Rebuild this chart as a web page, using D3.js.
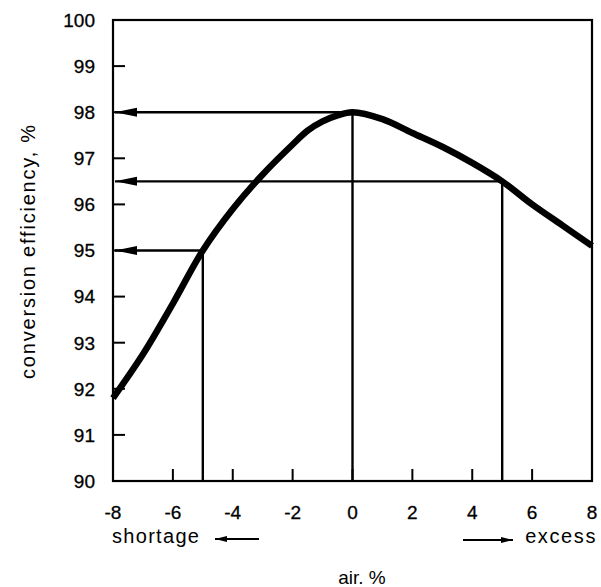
<!DOCTYPE html>
<html>
<head>
<meta charset="utf-8">
<script src="https://cdn.jsdelivr.net/npm/d3@7"></script>
<style>
  body { margin: 0; background: #fff; }
  text { font-family: 'Liberation Sans', Arial, sans-serif; fill: #000; }
</style>
</head>
<body>
<svg width="601" height="587"></svg>
<script>
// air %
const airX = [-8, -7, -6, -5, -4, -3, -2, -1.5, -1, -0.5, 0, 1, 2, 3, 4, 5, 6, 7, 8]
const efficiency = [91.8, 92.75, 93.85, 95.0, 95.9, 96.65, 97.3, 97.6, 97.8, 97.93, 98.0, 97.85, 97.55, 97.25, 96.9, 96.5, 96.0, 95.55, 95.1]

const xTicks = [-8, -6, -4, -2, 0, 2, 4, 6, 8]
const yTicks = [90, 91, 92, 93, 94, 95, 96, 97, 98, 99, 100]

// read-off guides: [air %, efficiency %]
const guides = [[-5, 95], [0, 98], [5, 96.5]]

const svg = d3.select('svg')

const x = d3.scaleLinear().domain([-8, 8]).range([113, 592])
const y = d3.scaleLinear().domain([90, 100]).range([481, 20])

// arrow heads, tip at the end of the line
const defs = svg.append('defs')
defs.append('marker')
  .attr('id', 'head')
  .attr('viewBox', '0 0 22 10')
  .attr('refX', 22).attr('refY', 5)
  .attr('markerWidth', 22).attr('markerHeight', 10)
  .attr('markerUnits', 'userSpaceOnUse')
  .attr('orient', 'auto')
  .append('path').attr('d', 'M22,5 L0,0.5 L0,9.5 Z').attr('fill', '#000')
defs.append('marker')
  .attr('id', 'small')
  .attr('viewBox', '0 0 12 7')
  .attr('refX', 12).attr('refY', 3.5)
  .attr('markerWidth', 12).attr('markerHeight', 7)
  .attr('markerUnits', 'userSpaceOnUse')
  .attr('orient', 'auto')
  .append('path').attr('d', 'M12,3.5 L0,0.5 L0,6.5 Z').attr('fill', '#000')

// frame
svg.append('rect')
  .attr('x', x(-8)).attr('y', y(100))
  .attr('width', x(8) - x(-8)).attr('height', y(90) - y(100))
  .attr('fill', 'none').attr('stroke', '#000').attr('stroke-width', 2.2)

// inward ticks
svg.selectAll('.ytick').data(yTicks.slice(1, -1)).enter().append('line')
  .attr('x1', x(-8)).attr('x2', x(-8) + 12)
  .attr('y1', d => y(d)).attr('y2', d => y(d))
  .attr('stroke', '#000').attr('stroke-width', 2)
svg.selectAll('.xtick').data(xTicks.slice(1, -1)).enter().append('line')
  .attr('x1', d => x(d)).attr('x2', d => x(d))
  .attr('y1', y(90)).attr('y2', y(90) - 12)
  .attr('stroke', '#000').attr('stroke-width', 2)

// tick labels
svg.selectAll('.ylab').data(yTicks).enter().append('text')
  .attr('x', 95).attr('y', d => y(d)).attr('dy', '0.36em')
  .attr('text-anchor', 'end').attr('font-size', 19)
  .attr('stroke', '#000').attr('stroke-width', 0.3)
  .text(d => d)
svg.selectAll('.xlab').data(xTicks).enter().append('text')
  .attr('x', d => x(d)).attr('y', 519)
  .attr('text-anchor', 'middle').attr('font-size', 19)
  .attr('stroke', '#000').attr('stroke-width', 0.3)
  .text(d => d)

// guide lines
guides.forEach(function (g) {
  svg.append('line')
    .attr('x1', x(g[0])).attr('x2', x(g[0]))
    .attr('y1', y(90)).attr('y2', y(g[1]))
    .attr('stroke', '#000').attr('stroke-width', 2.4)
  svg.append('line')
    .attr('x1', x(g[0])).attr('x2', x(-8) + 2)
    .attr('y1', y(g[1])).attr('y2', y(g[1]))
    .attr('stroke', '#000').attr('stroke-width', 2.4)
    .attr('marker-end', 'url(#head)')
})

// curve
const line = d3.line()
  .x((d, i) => x(airX[i]))
  .y(d => y(d))
  .curve(d3.curveCatmullRom.alpha(0.5))
svg.append('path')
  .attr('d', line(efficiency))
  .attr('fill', 'none').attr('stroke', '#000')
  .attr('stroke-width', 6.5).attr('stroke-linejoin', 'round')

// under-axis notes
svg.append('text')
  .attr('x', 112).attr('y', 543).attr('font-size', 20)
  .attr('letter-spacing', 1.3)
  .text('shortage')
svg.append('line')
  .attr('x1', 259).attr('x2', 215).attr('y1', 539).attr('y2', 539)
  .attr('stroke', '#000').attr('stroke-width', 2)
  .attr('marker-end', 'url(#small)')
svg.append('text')
  .attr('x', 597).attr('y', 543).attr('font-size', 20)
  .attr('text-anchor', 'end').attr('letter-spacing', 1.6)
  .text('excess')
svg.append('line')
  .attr('x1', 463).attr('x2', 513).attr('y1', 540).attr('y2', 540)
  .attr('stroke', '#000').attr('stroke-width', 2)
  .attr('marker-end', 'url(#small)')

// axis titles
svg.append('text')
  .attr('x', 362).attr('y', 584).attr('font-size', 19)
  .attr('text-anchor', 'middle')
  .text('air. %')
svg.append('text')
  .attr('transform', 'translate(35,251) rotate(-90)')
  .attr('text-anchor', 'middle').attr('font-size', 20)
  .attr('letter-spacing', 1.8)
  .text('conversion efficiency, %')
</script>
</body>
</html>
